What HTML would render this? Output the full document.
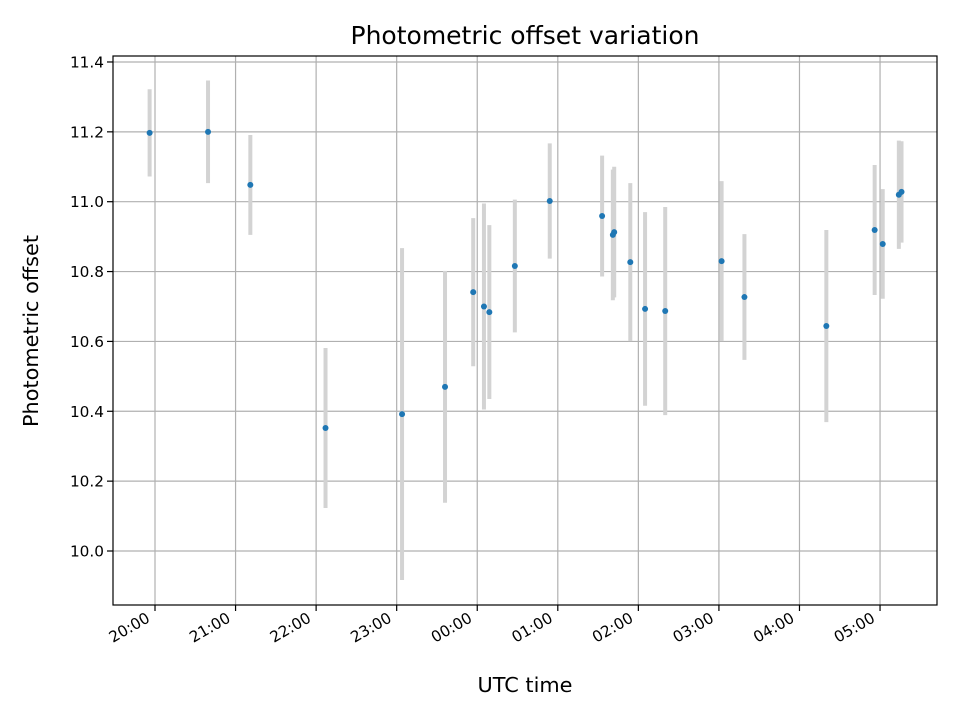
<!DOCTYPE html>
<html><head><meta charset="utf-8"><style>
body{margin:0;background:#fff;}
svg text{font-family:"DejaVu Sans","Liberation Sans",sans-serif;fill:#000;}
</style></head><body>
<svg id="chart" width="960" height="720" viewBox="0 0 960 720" xmlns="http://www.w3.org/2000/svg">
<rect width="960" height="720" fill="#fff"/>
<g id="grid"></g><g id="bars"></g><g id="points"></g><g id="axes"></g>
<text x="525" y="44" font-size="25" text-anchor="middle" textLength="349" lengthAdjust="spacingAndGlyphs">Photometric offset variation</text>
<text x="525" y="692" font-size="20.8" text-anchor="middle" textLength="95" lengthAdjust="spacingAndGlyphs">UTC time</text>
<text x="38" y="331" font-size="20.8" text-anchor="middle" transform="rotate(-90 38 331)" textLength="192" lengthAdjust="spacingAndGlyphs">Photometric offset</text>
</svg>
<script>
// minutes since 20:00 UTC
const times=[-4,39.5,71,127,184,216,237,245,249,268,294,333,342,341,354,365,380,422,439,500,536,542,554,556];
const offsets=[11.197,11.200,11.048,10.352,10.392,10.470,10.741,10.700,10.684,10.816,11.002,10.959,10.913,10.905,10.827,10.693,10.687,10.830,10.727,10.644,10.919,10.879,11.020,11.028];
const errors=[0.125,0.147,0.143,0.229,0.475,0.332,0.212,0.295,0.249,0.190,0.165,0.173,0.187,0.187,0.226,0.277,0.298,0.229,0.180,0.275,0.186,0.157,0.155,0.145];
const yTicks=[10.0,10.2,10.4,10.6,10.8,11.0,11.2,11.4];
const xTickLabels=["20:00","21:00","22:00","23:00","00:00","01:00","02:00","03:00","04:00","05:00"];
const L=113,R=937,T=56,B=605;
const xs=m=>155+m/60*80.56;
const ys=v=>551-(v-10)*349.3;
const NS="http://www.w3.org/2000/svg";
function mk(p,tag,at){const e=document.createElementNS(NS,tag);for(const k in at)e.setAttribute(k,at[k]);p.appendChild(e);return e;}
const grid=document.getElementById('grid'),axes=document.getElementById('axes');
const bars=document.getElementById('bars'),pts=document.getElementById('points');
xTickLabels.forEach((lab,i)=>{
  const x=xs(i*60);
  const g=mk(grid,'line',{x1:x,x2:x,y1:T,y2:B,stroke:'#b0b0b0','stroke-width':1.2});
  
  
  mk(axes,'line',{x1:x,x2:x,y1:B,y2:B+6,stroke:'#000','stroke-width':1.2});
  const tx=x-4,ty=B+16;
  const t=mk(axes,'text',{x:tx,y:ty,'font-size':15.3,'text-anchor':'end',transform:`rotate(-30 ${tx} ${ty})`});
  t.textContent=lab;
  
  
});
yTicks.forEach(v=>{
  const y=ys(v);
  const g=mk(grid,'line',{x1:L,x2:R,y1:y,y2:y,stroke:'#b0b0b0','stroke-width':1.2});
  
  
  mk(axes,'line',{x1:L-6,x2:L,y1:y,y2:y,stroke:'#000','stroke-width':1.2});
  const t=mk(axes,'text',{x:L-9,y:y+5.5,'font-size':15.3,'text-anchor':'end'});
  t.textContent=v.toFixed(1);
  
  
});
const fr=mk(axes,'rect',{x:L,y:T,width:R-L,height:B-T,fill:'none',stroke:'#000','stroke-width':1.2});


times.forEach((m,i)=>{
  const x=xs(m);
  const b=mk(bars,'line',{x1:x,x2:x,y1:ys(offsets[i]+errors[i]),y2:ys(offsets[i]-errors[i]),stroke:'#d3d3d3','stroke-width':4});
  
  
  const c=mk(pts,'circle',{cx:x,cy:ys(offsets[i]),r:3,fill:'#1f77b4'});
  
  
});
</script>
</body></html>
